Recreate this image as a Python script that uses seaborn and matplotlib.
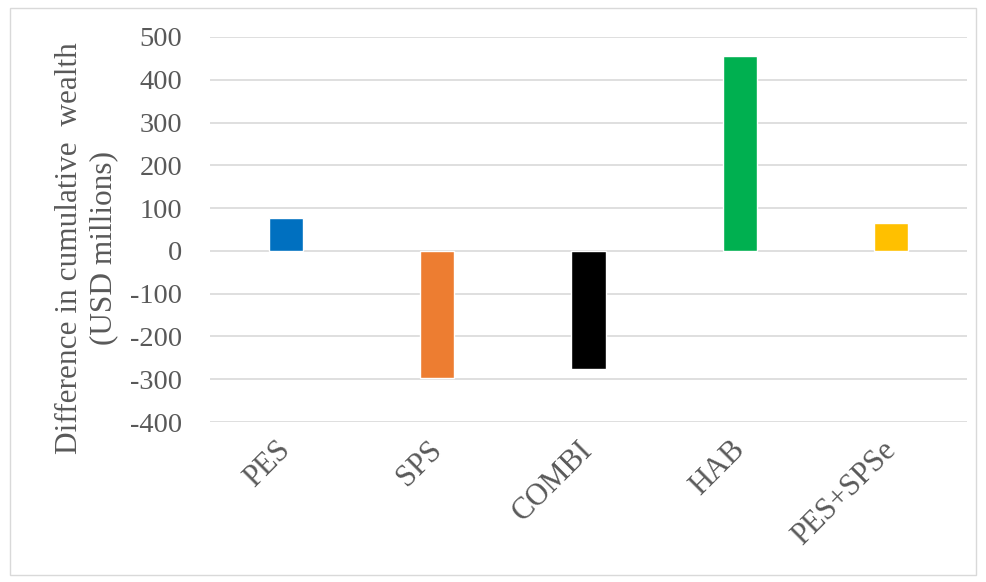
import matplotlib
matplotlib.use("Agg")
import matplotlib.pyplot as plt
import seaborn as sns
import pandas as pd
from matplotlib.patches import Rectangle

categories = ["PES", "SPS", "COMBI", "HAB", "PES+SPSe"]
values = [78, -297, -276, 455, 66]
colors = ["#0070C0", "#ED7D31", "#000000", "#00B050", "#FFC000"]
yticks = [-400, -300, -200, -100, 0, 100, 200, 300, 400, 500]

df = pd.DataFrame({"scenario": categories, "value": values})

sns.set_theme(style="white")
plt.rcParams["font.family"] = ["Liberation Serif", "DejaVu Serif"]

fig = plt.figure(figsize=(9.86, 5.82), dpi=100)
ax = fig.add_axes([210/986, 1 - 422/582, (967-210)/986, (422-37)/582])

sns.barplot(data=df, x="scenario", y="value", hue="scenario", palette=colors,
            order=categories, hue_order=categories, width=0.225, legend=False,
            ax=ax, saturation=1)

ax.set_ylim(-400, 500)
ax.set_xlim(-0.5, 4.5)
ax.set_yticks(yticks)
ax.set_yticklabels([str(t) for t in yticks], fontsize=20.5, color="#595959")
ax.yaxis.grid(True, color="#D9D9D9", linewidth=1.2)
ax.set_axisbelow(True)
for s in ax.spines.values():
    s.set_visible(False)
ax.tick_params(axis="both", length=0)
ax.tick_params(axis="y", pad=20)

ax.set_xlabel("")
ax.set_xticks(range(len(categories)))
ax.set_xticklabels(categories, rotation=45, ha="right", va="center",
                   rotation_mode="anchor", fontsize=22, color="#595959")
ax.tick_params(axis="x", pad=17)

ax.set_ylabel("Difference in cumulative  wealth\n(USD millions)", fontsize=22.5,
              color="#595959", linespacing=1.25)
ax.yaxis.set_label_coords(-0.121, 0.452)

fig.patches.append(Rectangle((10/986, 1 - 575/582), 966/986, 567/582,
                             transform=fig.transFigure, fill=False,
                             edgecolor="#D9D9D9", linewidth=1))

fig.savefig("out.png", dpi=100)
